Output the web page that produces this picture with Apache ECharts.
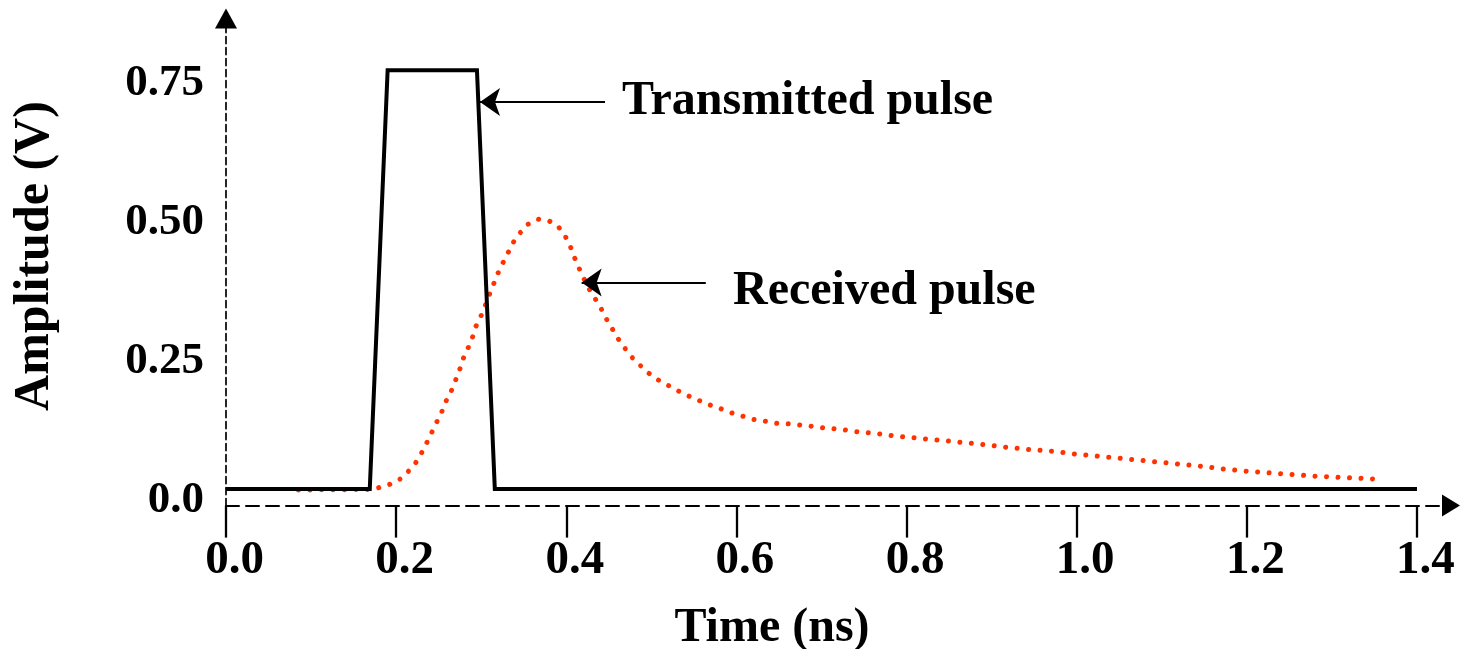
<!DOCTYPE html>
<html>
<head>
<meta charset="utf-8">
<title>Transmitted and received pulse</title>
<script src="https://cdn.jsdelivr.net/npm/echarts@6/dist/echarts.min.js"></script>
<style>
  html, body { margin: 0; padding: 0; background: #ffffff; }
  #chart { width: 1462px; height: 649px; }
</style>
</head>
<body>
<div id="chart"></div>
<script>
// Transmitted pulse: trapezoid sitting on a small DC offset
const txTime = [0.000, 0.169, 0.190, 0.295, 0.316, 1.400];
const txAmp  = [0.020, 0.020, 0.773, 0.773, 0.020, 0.020];

// Received pulse: delayed, broadened pulse with a long tail
const rxTime = [
  0.085, 0.166, 0.179, 0.192, 0.204, 0.214, 0.223, 0.230, 0.236, 0.242,
  0.248, 0.254, 0.259, 0.265, 0.270, 0.275, 0.279, 0.285, 0.290, 0.294,
  0.300, 0.305, 0.310, 0.315, 0.320, 0.326, 0.332, 0.338, 0.346, 0.355,
  0.367, 0.380, 0.391, 0.399, 0.405, 0.410, 0.415, 0.421, 0.427, 0.434,
  0.441, 0.447, 0.454, 0.461, 0.469, 0.477, 0.487, 0.497, 0.508, 0.520,
  0.532, 0.544, 0.556, 0.569, 0.582, 0.594, 0.607, 0.620, 0.633, 0.647,
  0.661, 0.674, 0.687, 0.701, 0.715, 0.728, 0.741, 0.755, 0.768, 0.782,
  0.808, 0.836, 0.863, 0.890, 0.917, 0.944, 0.970, 0.997, 1.024, 1.051,
  1.078, 1.105, 1.145, 1.172, 1.199, 1.226, 1.253, 1.280, 1.307, 1.335,
  1.348
];
const rxAmp = [
  0.018, 0.019, 0.022, 0.028, 0.037, 0.051, 0.067, 0.085, 0.103, 0.122,
  0.141, 0.160, 0.179, 0.197, 0.216, 0.236, 0.255, 0.275, 0.294, 0.313,
  0.332, 0.351, 0.371, 0.390, 0.409, 0.428, 0.446, 0.464, 0.481, 0.496,
  0.505, 0.502, 0.491, 0.474, 0.455, 0.435, 0.417, 0.397, 0.379, 0.362,
  0.344, 0.326, 0.308, 0.290, 0.273, 0.257, 0.242, 0.228, 0.216, 0.206,
  0.196, 0.187, 0.179, 0.171, 0.164, 0.157, 0.151, 0.145, 0.142, 0.138,
  0.137, 0.135, 0.133, 0.130, 0.128, 0.126, 0.123, 0.121, 0.119, 0.116,
  0.112, 0.108, 0.104, 0.100, 0.095, 0.091, 0.088, 0.083, 0.079, 0.075,
  0.071, 0.067, 0.061, 0.056, 0.052, 0.049, 0.046, 0.043, 0.041, 0.039,
  0.038
];

// Axis ticks and their printed labels
const xTickValues = [0, 0.2, 0.4, 0.6, 0.8, 1.0, 1.2, 1.4];
const xTickLabels = ['0.0', '0.2', '0.4', '0.6', '0.8', '1.0', '1.2', '1.4'];
const yTickValues = [0, 0.25, 0.5, 0.75];
const yTickLabels = ['0.0', '0.25', '0.50', '0.75'];

// Call-outs: arrow tip, arrow tail, caption anchor (left-middle of the text)
const calloutText   = ['Transmitted pulse', 'Received pulse'];
const calloutHead   = [[0.2986, 0.716], [0.4181, 0.391]];
const calloutTail   = [[0.4455, 0.716], [0.564, 0.391]];
const calloutAnchor = [[0.4655, 0.717], [0.596, 0.374]];

const FONT = '"Liberation Serif", "Times New Roman", serif';

const pairs = (xs, ys) => xs.map((x, i) => [x, ys[i]]);
const labelOf = (values, labels) => (v) =>
  labels[values.findIndex(t => Math.abs(t - v) < 1e-6)] || '';

const chart = echarts.init(document.getElementById('chart'), null, { renderer: 'canvas' });

chart.setOption({
  animation: false,
  backgroundColor: '#ffffff',
  grid: {
    left: 226, right: 11, top: 18.5, bottom: 143.4,
    containLabel: false,
    outerBoundsMode: 'none'
  },
  xAxis: {
    type: 'value',
    min: 0,
    max: 1.44,
    name: 'Time (ns)',
    nameLocation: 'middle',
    nameGap: 99,
    nameTextStyle: {
      fontFamily: FONT, fontWeight: 'bold', fontSize: 48, color: '#000',
      padding: [0, 133, 0, 0]
    },
    axisLine: {
      onZero: false,
      symbol: ['none', 'triangle'],
      symbolSize: [22, 18],
      lineStyle: { color: '#000', width: 2, type: [13, 7] }
    },
    axisTick: {
      show: true,
      customValues: xTickValues,
      length: 32,
      lineStyle: { color: '#000', width: 2.3 }
    },
    axisLabel: {
      customValues: xTickValues,
      formatter: labelOf(xTickValues, xTickLabels),
      margin: 32,
      padding: [0, 0, 0, 17],
      fontFamily: FONT, fontWeight: 'bold', fontSize: 47, color: '#000'
    },
    splitLine: { show: false }
  },
  yAxis: {
    type: 'value',
    min: -0.01,
    max: 0.866,
    name: 'Amplitude (V)',
    nameLocation: 'middle',
    nameGap: 166,
    nameRotate: 90,
    nameTextStyle: {
      fontFamily: FONT, fontWeight: 'bold', fontSize: 50, color: '#000',
      padding: [0, 0, 0, 12]
    },
    axisLine: {
      onZero: false,
      symbol: ['none', 'triangle'],
      symbolSize: [22, 20],
      lineStyle: { color: '#000', width: 1.7, type: [7, 4] }
    },
    axisTick: { show: false },
    axisLabel: {
      customValues: yTickValues,
      formatter: labelOf(yTickValues, yTickLabels),
      margin: 22,
      fontFamily: FONT, fontWeight: 'bold', fontSize: 45, color: '#000'
    },
    splitLine: { show: false }
  },
  series: [
    {
      name: 'Transmitted pulse',
      type: 'line',
      data: pairs(txTime, txAmp),
      showSymbol: false,
      lineStyle: { color: '#000000', width: 4, join: 'miter' },
      z: 3,
      markLine: {
        silent: true,
        symbol: ['arrow', 'none'],
        symbolSize: [21, 20],
        lineStyle: { color: '#000', width: 2, type: 'solid' },
        label: { show: false },
        data: calloutText.map((txt, i) => [
          { coord: calloutHead[i] },
          { coord: calloutTail[i] }
        ])
      },
      markPoint: {
        silent: true,
        symbol: 'circle',
        symbolSize: 0,
        label: {
          show: true,
          position: 'right',
          distance: 0,
          fontFamily: FONT, fontWeight: 'bold', fontSize: 48, color: '#000'
        },
        data: calloutText.map((txt, i) => ({
          coord: calloutAnchor[i],
          label: { formatter: txt }
        }))
      }
    },
    {
      name: 'Received pulse',
      type: 'line',
      data: pairs(rxTime, rxAmp),
      showSymbol: false,
      smooth: false,
      lineStyle: { color: '#ff3300', width: 5, type: [0.01, 11.5], cap: 'round' },
      z: 2
    }
  ]
});
</script>
</body>
</html>
